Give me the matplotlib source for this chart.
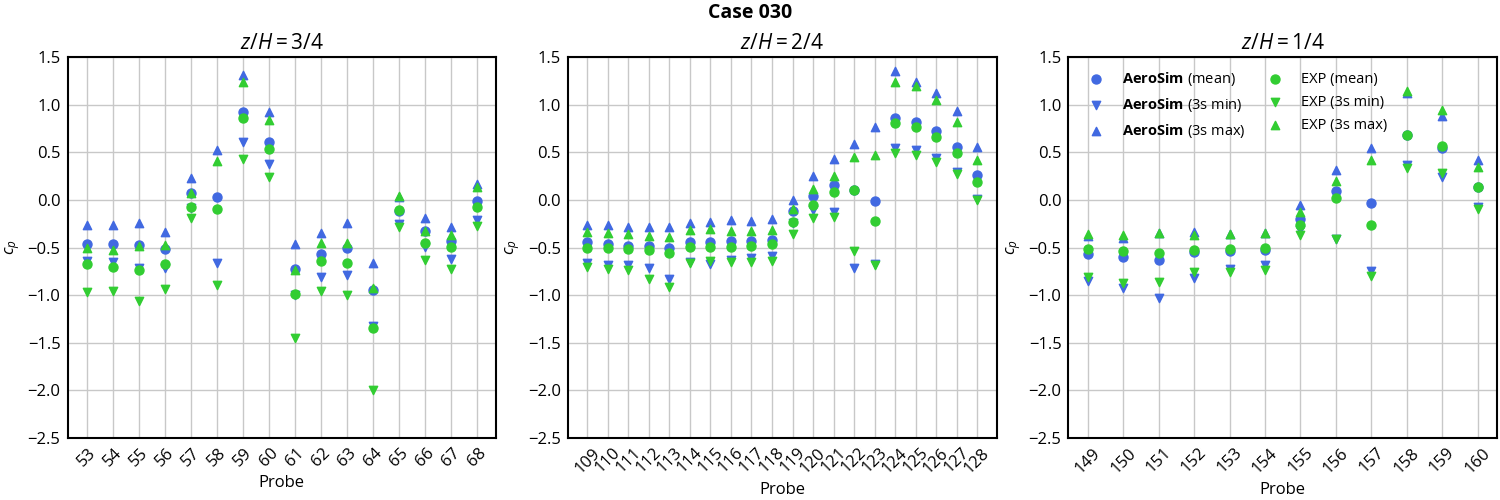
import matplotlib
matplotlib.use("Agg")
import matplotlib.pyplot as plt

plt.rcParams['font.family'] = ['Open Sans', 'DejaVu Sans']
plt.rcParams['mathtext.fontset'] = 'custom'
plt.rcParams['mathtext.rm'] = 'Open Sans'
plt.rcParams['mathtext.it'] = 'Open Sans:italic'
plt.rcParams['mathtext.bf'] = 'Open Sans:bold'

# z/H = 3/4
probes_34 = [53, 54, 55, 56, 57, 58, 59, 60, 61, 62, 63, 64, 65, 66, 67, 68]
sim_mean_34 = [-0.46, -0.46, -0.47, -0.52, 0.07, 0.03, 0.92, 0.61, -0.73, -0.57, -0.50, -0.95, -0.12, -0.33, -0.43, -0.01]
sim_min_34 = [-0.64, -0.65, -0.72, -0.71, -0.09, -0.66, 0.61, 0.38, -1.00, -0.81, -0.79, -1.32, -0.25, -0.49, -0.62, -0.21]
sim_max_34 = [-0.26, -0.26, -0.24, -0.34, 0.23, 0.52, 1.31, 0.92, -0.46, -0.35, -0.24, -0.66, 0.03, -0.19, -0.28, 0.17]
exp_mean_34 = [-0.67, -0.70, -0.74, -0.67, -0.08, -0.10, 0.86, 0.53, -0.99, -0.64, -0.66, -1.34, -0.11, -0.45, -0.49, -0.07]
exp_min_34 = [-0.97, -0.96, -1.06, -0.94, -0.19, -0.89, 0.43, 0.24, -1.45, -0.96, -1.00, -2.00, -0.28, -0.63, -0.73, -0.27]
exp_max_34 = [-0.51, -0.53, -0.48, -0.47, 0.07, 0.41, 1.24, 0.84, -0.74, -0.45, -0.45, -0.93, 0.04, -0.33, -0.37, 0.13]

# z/H = 2/4
probes_24 = list(range(109, 129))
sim_mean_24 = [-0.44, -0.46, -0.48, -0.48, -0.51, -0.44, -0.44, -0.43, -0.43, -0.42, -0.12, 0.04, 0.16, 0.10, -0.01, 0.86, 0.82, 0.72, 0.56, 0.26]
sim_min_24 = [-0.66, -0.68, -0.68, -0.72, -0.83, -0.65, -0.67, -0.63, -0.61, -0.59, -0.24, -0.11, -0.13, -0.72, -0.67, 0.54, 0.52, 0.44, 0.29, 0.01]
sim_max_24 = [-0.26, -0.26, -0.28, -0.29, -0.29, -0.24, -0.23, -0.21, -0.22, -0.20, 0.00, 0.25, 0.43, 0.59, 0.76, 1.35, 1.24, 1.12, 0.93, 0.56]
exp_mean_24 = [-0.50, -0.51, -0.52, -0.53, -0.56, -0.49, -0.49, -0.49, -0.48, -0.46, -0.23, -0.05, 0.08, 0.10, -0.22, 0.81, 0.77, 0.66, 0.49, 0.19]
exp_min_24 = [-0.70, -0.73, -0.74, -0.83, -0.91, -0.66, -0.64, -0.65, -0.65, -0.64, -0.36, -0.19, -0.18, -0.54, -0.68, 0.49, 0.47, 0.40, 0.27, -0.00]
exp_max_24 = [-0.34, -0.35, -0.36, -0.38, -0.39, -0.32, -0.31, -0.33, -0.33, -0.32, -0.10, 0.11, 0.25, 0.45, 0.47, 1.24, 1.20, 1.05, 0.82, 0.42]

# z/H = 1/4
probes_14 = list(range(149, 161))
sim_mean_14 = [-0.57, -0.60, -0.63, -0.55, -0.54, -0.53, -0.20, 0.09, -0.03, 0.68, 0.54, 0.13]
sim_min_14 = [-0.85, -0.92, -1.03, -0.82, -0.73, -0.68, -0.32, -0.41, -0.75, 0.37, 0.24, -0.07]
sim_max_14 = [-0.38, -0.40, -0.35, -0.34, -0.36, -0.35, -0.05, 0.31, 0.54, 1.12, 0.88, 0.42]
exp_mean_14 = [-0.52, -0.54, -0.56, -0.53, -0.52, -0.51, -0.26, 0.02, -0.26, 0.68, 0.57, 0.13]
exp_min_14 = [-0.81, -0.87, -0.86, -0.76, -0.76, -0.74, -0.37, -0.41, -0.80, 0.33, 0.28, -0.10]
exp_max_14 = [-0.36, -0.37, -0.35, -0.37, -0.36, -0.35, -0.13, 0.20, 0.42, 1.14, 0.94, 0.34]

panels = [
    (r'$z/H = 3/4$', probes_34, sim_mean_34, sim_min_34, sim_max_34, exp_mean_34, exp_min_34, exp_max_34),
    (r'$z/H = 2/4$', probes_24, sim_mean_24, sim_min_24, sim_max_24, exp_mean_24, exp_min_24, exp_max_24),
    (r'$z/H = 1/4$', probes_14, sim_mean_14, sim_min_14, sim_max_14, exp_mean_14, exp_min_14, exp_max_14),
]

blue = '#4169e1'
green = '#32cd32'

fig, axes = plt.subplots(1, 3, figsize=(15, 5), dpi=100)
fig.subplots_adjust(left=0.045, right=0.998, top=0.886, bottom=0.124, wspace=0.168)

for ax, (title, probes, sm, smin, smax, em, emin, emax) in zip(axes, panels):
    x = list(range(len(probes)))
    ax.scatter(x, sm, marker='o', s=42, color=blue, label=r'$\mathbf{AeroSim}$ (mean)', zorder=3)
    ax.scatter(x, smin, marker='v', s=36, color=blue, label=r'$\mathbf{AeroSim}$ (3s min)', zorder=3)
    ax.scatter(x, smax, marker='^', s=36, color=blue, label=r'$\mathbf{AeroSim}$ (3s max)', zorder=3)
    ax.scatter(x, em, marker='o', s=42, color=green, label='EXP (mean)', zorder=3)
    ax.scatter(x, emin, marker='v', s=36, color=green, label='EXP (3s min)', zorder=3)
    ax.scatter(x, emax, marker='^', s=36, color=green, label='EXP (3s max)', zorder=3)
    ax.set_xticks(x)
    ax.set_xticklabels([str(p) for p in probes], rotation=45, fontsize=12)
    ax.set_ylim(-2.5, 1.5)
    ax.set_yticks([-2.5, -2.0, -1.5, -1.0, -0.5, 0.0, 0.5, 1.0, 1.5])
    ax.tick_params(axis='both', length=0, labelsize=12, pad=5)
    ax.grid(True, color='#c8c8c8', linewidth=1)
    ax.set_axisbelow(True)
    for s in ax.spines.values():
        s.set_color('black')
        s.set_linewidth(1.5)
    ax.set_title(title, fontsize=15)
    ax.set_xlabel('Probe', fontsize=12)
    ax.set_ylabel(r'$c_p$', fontsize=12)

axes[2].legend(loc='upper left', ncol=2, frameon=False, fontsize=10.5,
               handletextpad=0.8, columnspacing=1.0, labelspacing=0.55)

fig.suptitle('Case 030', fontsize=14, fontweight='bold', y=0.995)
fig.savefig('out.png', dpi=100)
